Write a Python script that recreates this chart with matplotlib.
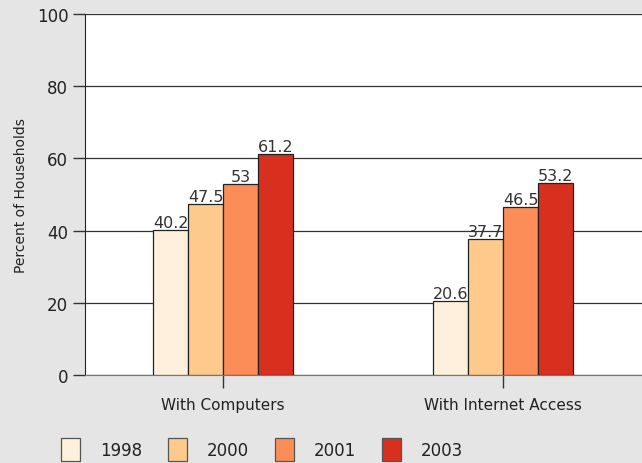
import numpy as np
import matplotlib
matplotlib.use("Agg")
import matplotlib.pyplot as plt
from matplotlib.patches import Rectangle

categories = ["With Computers", "With Internet Access"]
years = ["1998", "2000", "2001", "2003"]
values = {
    "1998": [40.2, 20.6],
    "2000": [47.5, 37.7],
    "2001": [53, 46.5],
    "2003": [61.2, 53.2],
}
colours = ["#fef0dc", "#fdca8c", "#fc8d59", "#d7301f"]
y_ticks = [0, 20, 40, 60, 80, 100]

plt.rcParams["font.family"] = ["DejaVu Sans"]
text_col = "#222222"
bg = "#e5e5e5"

fig = plt.figure(figsize=(6.42, 4.64), dpi=100)
fig.patch.set_facecolor(bg)
ax = fig.add_axes([85 / 642, 88 / 464, 1 - 85 / 642, 361 / 464])
ax.set_facecolor("white")

x = np.arange(len(categories))
width = 0.125
for i, year in enumerate(years):
    offs = (i - 1.5) * width
    bars = ax.bar(x + offs, values[year], width, color=colours[i],
                  edgecolor="#222222", linewidth=0.9, zorder=3)
    ax.bar_label(bars, labels=["%g" % v for v in values[year]], padding=0,
                 fontsize=11.5, color="#333333")

ax.set_xlim(-0.493, 1.496)
ax.set_ylim(0, 100)
ax.set_yticks(y_ticks)
ax.set_xticks(x)
ax.set_xticklabels(categories)
ax.tick_params(axis="y", length=9, width=1, color="#333333", labelsize=12,
               labelcolor=text_col, pad=3)
ax.tick_params(axis="x", length=9, width=1, color="#333333", labelsize=11,
               labelcolor=text_col, pad=7)
ax.yaxis.grid(True, color="#333333", linewidth=0.9, zorder=0)
ax.set_axisbelow(True)
for s in ["top", "right"]:
    ax.spines[s].set_visible(False)
ax.spines["left"].set_color("#222222")
ax.spines["bottom"].set_color("#777777")
ax.set_ylabel("Percent of Households", fontsize=10, color=text_col, labelpad=6)

# legend along the bottom
sq_w, sq_h = 19 / 642, 23 / 464
for i, year in enumerate(years):
    lx = (61 + i * 107) / 642
    fig.patches.append(Rectangle((lx, 2 / 464), sq_w, sq_h, transform=fig.transFigure,
                                 facecolor=colours[i], edgecolor="#555555", linewidth=0.9))
    fig.text(lx + 39 / 642, 13 / 464, year, fontsize=12, color=text_col, va="center")

fig.savefig("out.png", dpi=100, facecolor=bg)
